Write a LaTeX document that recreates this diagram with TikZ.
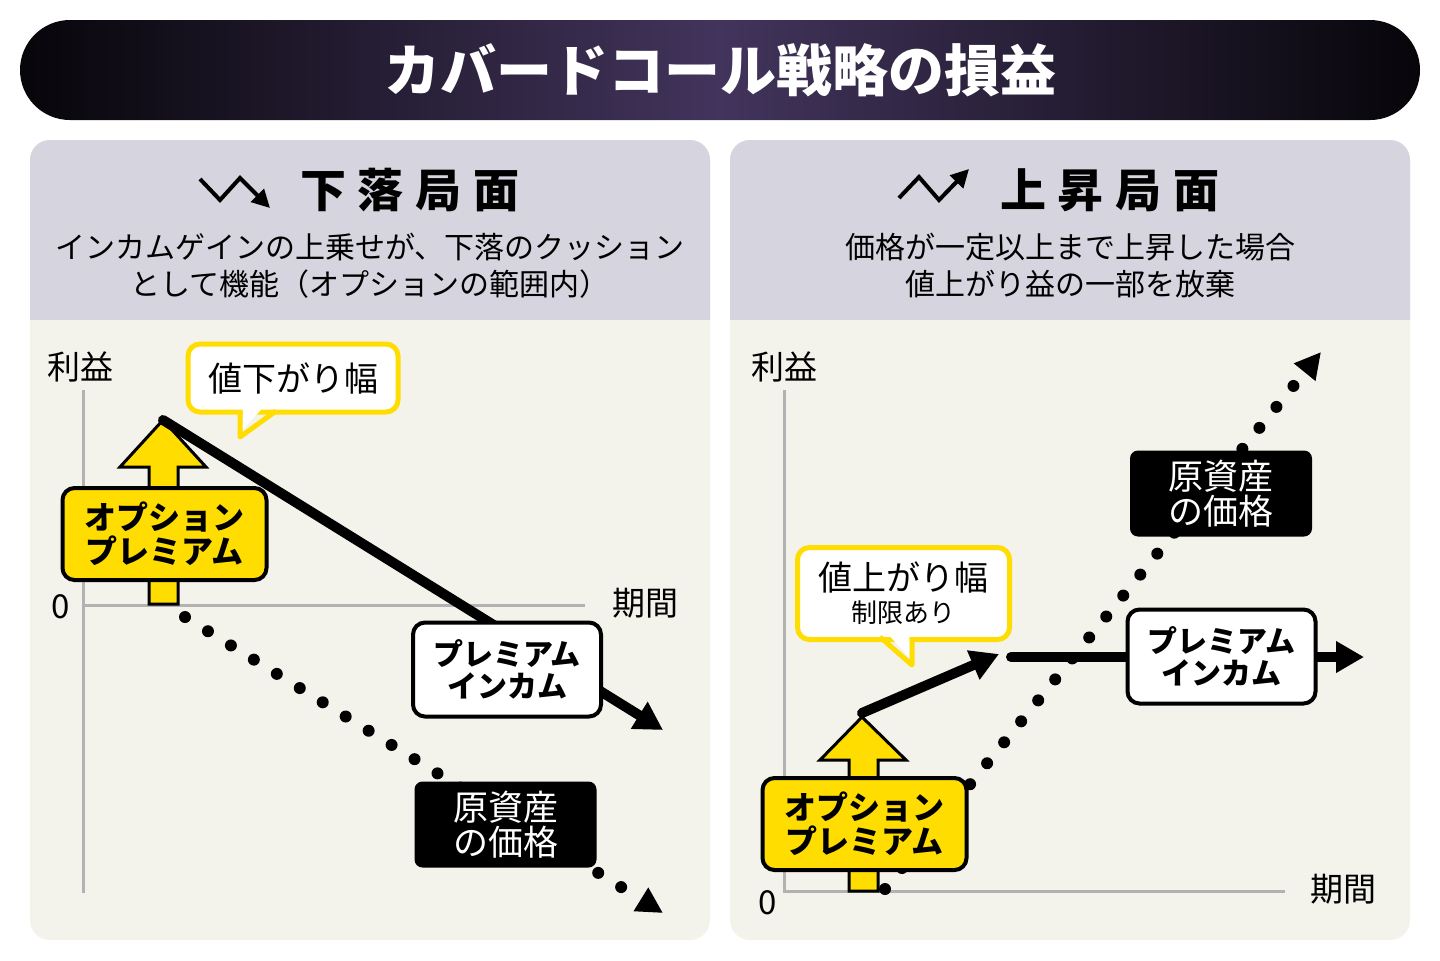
\documentclass[tikz,border=0pt]{standalone}
\usepackage{fontspec}
\setmainfont{Noto Sans CJK JP}
\usetikzlibrary{arrows.meta}

\definecolor{hdrgray}{RGB}{214,213,223}
\definecolor{paper}{RGB}{243,243,235}
\definecolor{premyellow}{RGB}{255,221,0}
\definecolor{axisgray}{RGB}{178,178,178}
\definecolor{titlepurple}{RGB}{66,52,92}

\pgfdeclarehorizontalshading{titleshade}{100bp}{color(0bp)=(black); color(22bp)=(black); color(50bp)=(titlepurple); color(78bp)=(black); color(100bp)=(black)}

\tikzset{every picture/.style={line width=0.75pt}}
\tikzset{
  axisline/.style={draw=axisgray, line width=1.5pt},
  profitline/.style={draw=black, line width=5pt, line cap=round},
  priceline/.style={draw=black, line width=6pt, line cap=round, dash pattern=on 0pt off 13.5pt},
  bigtip/.style={-{Triangle[length=14pt, width=15pt]}},
  dottip/.style={-{Triangle[length=13pt, width=13pt]}},
  axislabel/.style={font=\fontsize{16.5}{17}\selectfont},
  incomebox/.style={draw=black, fill=white, line width=2pt, rounded corners=6pt, minimum width=94pt, minimum height=47pt, align=center, inner sep=0pt, font=\fontsize{15}{16}\selectfont\bfseries},
  pricebox/.style={fill=black, text=white, rounded corners=4pt, minimum width=91pt, minimum height=43pt, align=center, inner sep=0pt, font=\fontsize{17.5}{17.5}\selectfont},
  optionbox/.style={draw=black, fill=premyellow, line width=2pt, rounded corners=6pt, minimum width=102pt, minimum height=46pt, align=center, inner sep=0pt, font=\fontsize{16}{17}\selectfont\bfseries},
  upshape/.style={draw=black, fill=premyellow, line width=1.5pt, line join=miter},
  calloutbox/.style={draw=premyellow, fill=white, line width=2.5pt, rounded corners=6pt, align=center, inner sep=0pt},
  headtitle/.style={font=\fontsize{23}{23}\selectfont\bfseries},
  headnote/.style={align=center, font=\fontsize{15}{18.5}\selectfont},
  icon/.style={draw=black, line width=2pt, -{Triangle[length=9pt, width=9pt]}}
}

\begin{document}
\begin{tikzpicture}[x=0.5pt,y=0.5pt,yscale=-1,xscale=1]
	\useasboundingbox (0,0) rectangle (1440,960);
	\fill[white] (0,0) rectangle (1440,960);

	% Title bar
	\shade[shading=titleshade, rounded corners=25pt] (20,20) rectangle (1420,120);
	\node[text=white, font=\fontsize{28}{28}\selectfont\bfseries] (title) at (720,70) {カバードコール戦略の損益};

	% Panels
	\fill[paper, rounded corners=10pt] (30,140) rectangle (710,940);
	\fill[hdrgray, rounded corners=10pt] (30,140) rectangle (710,340);
	\fill[paper] (30,320) rectangle (710,345);
	\fill[paper, rounded corners=10pt] (730,140) rectangle (1410,940);
	\fill[hdrgray, rounded corners=10pt] (730,140) rectangle (1410,340);
	\fill[paper] (730,320) rectangle (1410,345);

	%%%%%%%% left panel: falling market
	\draw[icon] (200,179) -- (220,200) -- (240,178) -- (270,208);
	\node[headtitle] (downhead) at (410,190) {下\hspace{6pt}落\hspace{6pt}局\hspace{6pt}面};
	\node[headnote] (downnote) at (370,266) {インカムゲインの上乗せが、下落のクッション\\として機能（オプションの範囲内）};

	% axes
	\coordinate (downtop) at (83,390);
	\coordinate (downorig) at (83,605);
	\coordinate (downbot) at (83,893);
	\coordinate (downright) at (585,605);
	\draw[axisline] (downtop) -- (downbot);
	\draw[axisline] (downorig) -- (downright);
	\node[axislabel] (downprofit) at (80,367) {利益};
	\node[axislabel] (downzero) at (61,607) {0};
	\node[axislabel] (downtime) at (645,603) {期間};

	% price (dotted)
	\coordinate (downpricestart) at (185,617);
	\coordinate (downpriceend) at (663,913);
	\draw[priceline, dottip] (downpricestart) -- (downpriceend);

	% option premium arrow
	\filldraw[upshape] (163,420) -- (206,467) -- (178,467) -- (178,604) -- (149,604) -- (149,467) -- (120,467) -- cycle;
	\node[optionbox] (downoption) at (164.5,534) {オプション\\プレミアム};

	% profit line
	\coordinate (downpeak) at (163,420);
	\coordinate (downend) at (663,730);
	\draw[profitline, bigtip] (downpeak) -- (downend);

	\node[incomebox] (downincome) at (507,669.5) {プレミアム\\インカム};
	\node[pricebox] (downprice) at (505.5,824.5) {原資産\\の価格};

	% callout
	\node[calloutbox, minimum width=105pt, minimum height=34pt, font=\fontsize{17}{17}\selectfont] (downcallout) at (293,378) {値下がり幅};
	\fill[white] (242.5,402) -- (242.5,430) -- (268,402) -- cycle;
	\draw[premyellow, line width=2.5pt, line join=round] (240,411) -- (240,437) -- (276,411);

	%%%%%%%% right panel: rising market
	\draw[icon] (899,198) -- (919,177) -- (939,200) -- (969,169);
	\node[headtitle] (uphead) at (1110,190) {上\hspace{6pt}昇\hspace{6pt}局\hspace{6pt}面};
	\node[headnote] (upnote) at (1070,266) {価格が一定以上まで上昇した場合\\値上がり益の一部を放棄};

	% axes
	\coordinate (uptop) at (784,390);
	\coordinate (uporig) at (784,891);
	\coordinate (upright) at (1285,891);
	\draw[axisline] (uptop) -- (uporig) -- (upright);
	\node[axislabel] (upprofit) at (784,367) {利益};
	\node[axislabel] (upzero) at (768,903) {0};
	\node[axislabel] (uptime) at (1343,889) {期間};

	% price (dotted)
	\coordinate (uppricestart) at (885,889);
	\coordinate (uppriceend) at (1321,352);
	\draw[priceline, dottip] (uppricestart) -- (uppriceend);

	% option premium arrow
	\filldraw[upshape] (862,717) -- (906,760) -- (878,760) -- (878,891) -- (849,891) -- (849,760) -- (820,760) -- cycle;
	\node[optionbox] (upoption) at (864.5,824) {オプション\\プレミアム};

	% profit line
	\coordinate (upstart) at (862,713);
	\coordinate (upcap) at (999,654);
	\coordinate (upflat) at (1011,657);
	\coordinate (upend) at (1364,657);
	\draw[profitline, bigtip] (upstart) -- (upcap);
	\draw[profitline, bigtip] (upflat) -- (upend);

	\node[incomebox] (upincome) at (1221.5,656.5) {プレミアム\\インカム};
	\node[pricebox] (upprice) at (1221,493.5) {原資産\\の価格};

	% callout
	\node[calloutbox, minimum width=106pt, minimum height=46pt, font=\fontsize{17}{16}\selectfont] (upcallout) at (903.5,593.5) {値上がり幅\\{\fontsize{13}{13}\selectfont 制限あり}};
	\fill[white] (882.5,628) -- (909.5,628) -- (909.5,658) -- cycle;
	\draw[premyellow, line width=2.5pt, line join=round] (880,637) -- (912,665) -- (912,637);

\end{tikzpicture}
\end{document}
